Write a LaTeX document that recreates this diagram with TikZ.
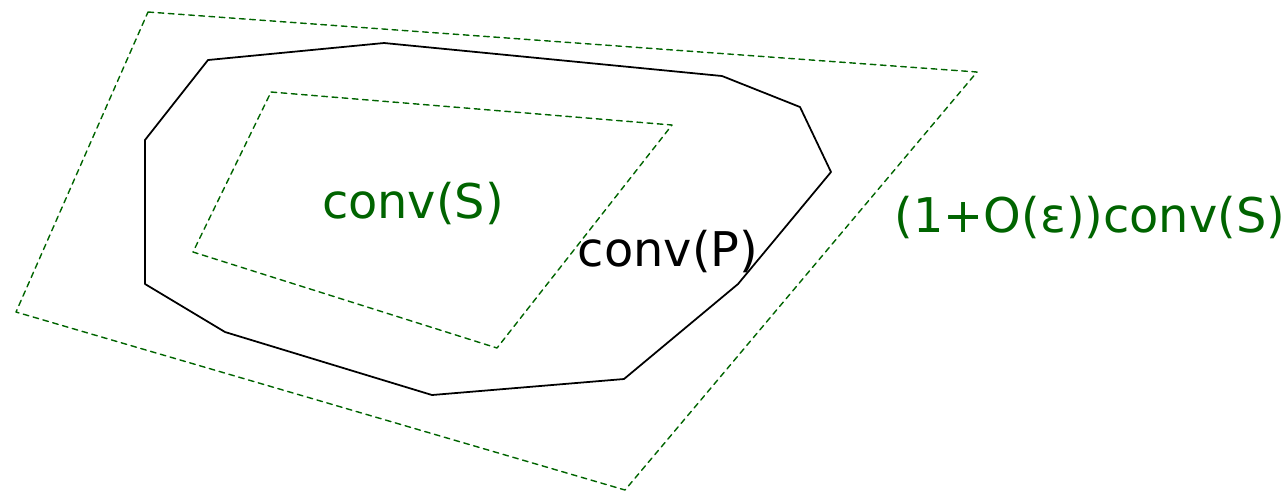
\documentclass[tikz,border=0pt]{standalone}
\usepackage{fontspec}
\setmainfont{DejaVu Sans}
\begin{document}
\begin{tikzpicture}[x=0.01cm,y=-0.01cm,line join=round,line cap=round]
\definecolor{hullgreen}{RGB}{0,100,0}
\tikzset{hull/.style={draw=hullgreen,line width=0.4pt,dash pattern=on 1.6pt off 1.3pt},
	poly/.style={draw=black,line width=0.5pt},
	hull label/.style={font=\fontsize{13.6}{16}\selectfont,inner sep=0pt}}
\useasboundingbox (0,0) rectangle (1286,493);
% outer hull (1+O(eps))conv(S)
\draw[hull] (148,12)--(977,72)--(625,490)--(16,312)--cycle;
% conv(P)
\draw[poly] (208,60)--(384,43)--(722,76)--(800,107)--(831,172)--(738,284)
	--(624,379)--(432,395)--(225,332)--(145,284)--(145,140)--cycle;
% inner hull conv(S)
\draw[hull] (271,92)--(672,125)--(497,348)--(193,252)--cycle;
\node[hull label,text=hullgreen] (convS) at (413,203) {conv(S)};
\node[hull label] (convP) at (668,251) {conv(P)};
\node[hull label,text=hullgreen] (scaled) at (1090,217) {(1+O(ε))conv(S)};
\end{tikzpicture}
\end{document}
